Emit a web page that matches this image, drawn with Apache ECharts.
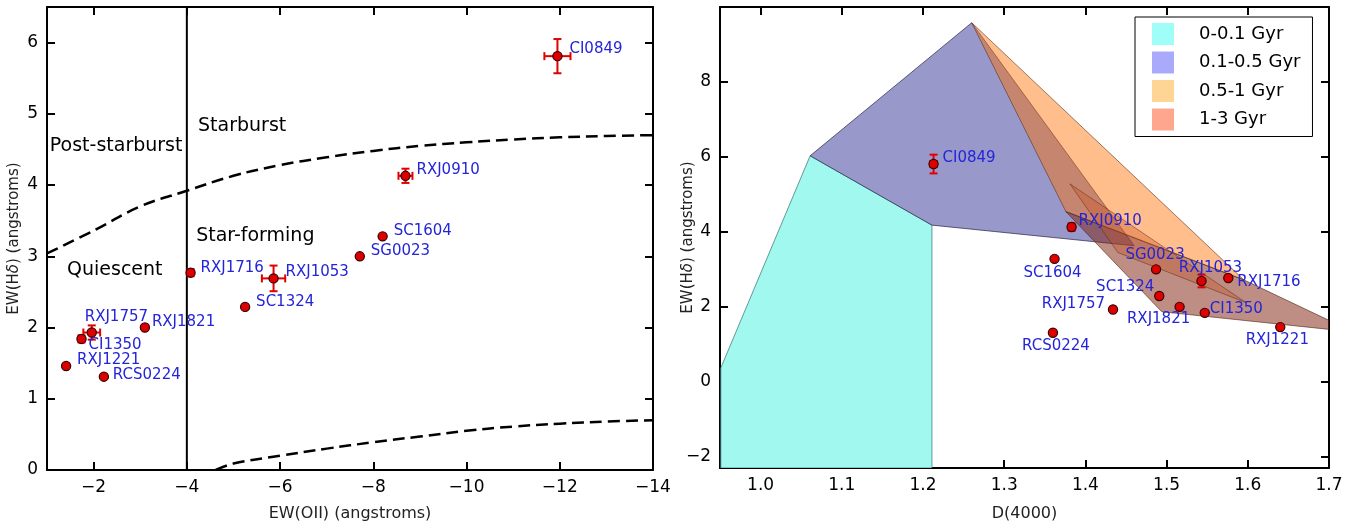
<!DOCTYPE html>
<html><head><meta charset="utf-8">
<script src="https://cdn.jsdelivr.net/npm/echarts@6/dist/echarts.min.js"></script>
<style>html,body{margin:0;padding:0;background:#fff}#c{width:1355px;height:527px}</style>
</head><body><div id="c"></div>
<script>
// ---------------- data ----------------
const clusters = ['CI0849','RXJ0910','SC1604','SG0023','RXJ1053','SC1324','RXJ1716','RXJ1821','RXJ1757','CI1350','RXJ1221','RCS0224'];
const ewOII    = [-11.95, -8.69, -8.20, -7.71, -5.86, -5.25, -4.08, -3.10, -1.96, -1.74, -1.41, -2.22];
const ewOIIErr = [  0.28,  0.15,  0,     0,     0.25,  0,     0.05,  0,     0.18,  0.05,  0,     0   ];
const ewHd     = [  5.81,  4.13,  3.28,  3.00,  2.69,  2.29,  2.77,  2.00,  1.93,  1.84,  1.46,  1.31];
const ewHdErr  = [  0.24,  0.10,  0,     0,     0.18,  0,     0.05,  0,     0.10,  0.05,  0,     0   ];
const d4000    = [ 1.213, 1.383, 1.362, 1.487, 1.543, 1.491, 1.576, 1.516, 1.434, 1.547, 1.640, 1.360];
const d4000Err = [ 0.004, 0,     0,     0,     0.003, 0,     0,     0,     0,     0,     0,     0    ];
const ewHdErrRight = [0.25, 0.10, 0, 0, 0.17, 0, 0, 0, 0, 0, 0, 0];

const leftXTicks  = [-2, -4, -6, -8, -10, -12, -14];
const leftYTicks  = [0, 1, 2, 3, 4, 5, 6];
const rightXTicks = [1.0, 1.1, 1.2, 1.3, 1.4, 1.5, 1.6, 1.7];
const rightYTicks = [-2, 0, 2, 4, 6, 8];

const regionNames = ['Post-starburst', 'Starburst', 'Star-forming', 'Quiescent'];
const regionOII   = [-1.06, -4.24, -4.20, -1.43];
const regionHd    = [4.55, 4.83, 3.28, 2.81];

const divideOII = -4;
const upperBoundary = [[-1,3.04],[-2,3.36],[-3,3.70],[-4,3.92],[-5,4.13],[-6,4.28],[-7,4.39],[-8,4.48],[-9,4.55],[-10,4.60],[-11,4.64],[-12,4.67],[-13,4.69],[-14,4.70]];
const lowerBoundary = [[-4.62,0.0],[-5,0.09],[-6,0.2],[-7,0.3],[-8,0.39],[-9,0.47],[-10,0.55],[-11,0.61],[-12,0.65],[-13,0.68],[-14,0.70]];

const ageBins = ['0-0.1 Gyr', '0.1-0.5 Gyr', '0.5-1 Gyr', '1-3 Gyr'];
const poly0_01   = [[0.951,0.37],[1.061,6.03],[1.211,4.18],[1.211,-2.3],[0.951,-2.3]];
const poly01_05  = [[1.061,6.03],[1.26,9.58],[1.46,3.63],[1.211,4.18]];
const poly05_1   = [[1.26,9.58],[1.595,2.72],[1.376,4.54]];
const poly1_3    = [[1.376,4.54],[1.494,1.87],[1.73,1.33],[1.595,2.72]];
const poly1_3core= [[1.381,5.28],[1.598,2.11],[1.44,3.45]];

// ---------------- styles ----------------
const FONT = 'DejaVu Sans';
const labelBlue = '#2424d8';
const leftLabelOffsets = {
  CI0849:[12,-7,'left'], RXJ0910:[11,-6,'left'], SC1604:[11,-5,'left'], SG0023:[11,-5,'left'],
  RXJ1053:[12,-6,'left'], SC1324:[11,-5,'left'], RXJ1716:[10,-5,'left'], RXJ1821:[7,-5,'left'],
  RXJ1757:[-7,-15,'left'], CI1350:[7,6,'left'], RXJ1221:[11,-6,'left'], RCS0224:[9,-2,'left']
};
const rightLabelOffsets = {
  CI0849:[9,-6,'left'], RXJ0910:[7,-6,'left'], SC1604:[-2,14,'center'], SG0023:[-1,-14,'center'],
  RXJ1053:[9,-13,'center'], RXJ1716:[9,4,'left'], SC1324:[-5,-9,'right'], RXJ1821:[-21,12,'center'],
  CI1350:[5,-4,'left'], RXJ1757:[-8,-5,'right'], RXJ1221:[-3,13,'center'], RCS0224:[3,13,'center']
};
const polyStyles = [
  {fill:'#a0f8ee', stroke:'rgba(60,120,120,0.75)'},
  {fill:'#9898ca', stroke:'rgba(40,40,70,0.7)'},
  {fill:'rgba(255,111,0,0.45)', stroke:'rgba(90,50,30,0.6)'},
  {fill:'rgba(125,30,10,0.5)', stroke:'rgba(80,40,30,0.6)'}
];
const legendColors = ['#9ffff8', '#aaaafa', '#ffd596', '#ffa68e'];

// ---------------- helpers ----------------
const minus = v => (v < 0 ? '\u2212' + Math.abs(v) : String(v));

function pointRenderer(offsets) {
  return function (params, api) {
    const name = clusters[params.dataIndex];
    const x = api.value(0), y = api.value(1), xe = api.value(2), ye = api.value(3);
    const c = api.coord([x, y]);
    const kids = [];
    const red = '#e00000';
    if (xe > 0) {
      const a = api.coord([x - xe, y]), b = api.coord([x + xe, y]);
      kids.push({type:'line', shape:{x1:a[0],y1:a[1],x2:b[0],y2:b[1]}, style:{stroke:red,lineWidth:2}});
      [a,b].forEach(p => kids.push({type:'line', shape:{x1:p[0],y1:p[1]-4,x2:p[0],y2:p[1]+4}, style:{stroke:red,lineWidth:2}}));
    }
    if (ye > 0) {
      const a = api.coord([x, y - ye]), b = api.coord([x, y + ye]);
      kids.push({type:'line', shape:{x1:a[0],y1:a[1],x2:b[0],y2:b[1]}, style:{stroke:red,lineWidth:2}});
      [a,b].forEach(p => kids.push({type:'line', shape:{x1:p[0]-4,y1:p[1],x2:p[0]+4,y2:p[1]}, style:{stroke:red,lineWidth:2}}));
    }
    kids.push({type:'circle', shape:{cx:c[0], cy:c[1], r:4.6}, style:{fill:'#dd0000', stroke:'#3a0000', lineWidth:1.2}});
    const o = offsets[name];
    kids.push({type:'text', style:{text:name, x:c[0]+o[0], y:c[1]+o[1], align:o[2], verticalAlign:'middle',
      fill:labelBlue, font:'15px "' + FONT + '"'}});
    return {type:'group', children:kids};
  };
}

function polyRenderer(polys, styles) {
  return function (params, api) {
    if (params.dataIndex !== 0) return null;
    return {type:'group', children: polys.map((p, k) => ({
      type:'polygon', shape:{points: p.map(v => api.coord(v))},
      style:{fill: styles[k].fill, stroke: styles[k].stroke, lineWidth: 1}
    }))};
  };
}

const axisCommon = {
  type:'value', splitLine:{show:false},
  axisLine:{show:true, onZero:false, lineStyle:{color:'#000', width:2}},
  axisTick:{show:true, inside:true, length:8, lineStyle:{color:'#000', width:2}},
  nameMoveOverlap:false,
  nameTextStyle:{fontFamily:FONT, fontSize:16, color:'#222'}
};
function mkAxis(extra, ticks, showLabels, fmt) {
  return Object.assign({}, axisCommon, extra, {
    axisTick:Object.assign({}, axisCommon.axisTick, {customValues:ticks}),
    axisLabel:{show:showLabels, customValues:ticks, formatter:fmt, color:'#000', fontFamily:FONT, fontSize:17, margin:9}
  });
}
const hdName = '{n|EW(H}{i|\u03b4}{n|) (angstroms)}';
const hdRich = {n:{fontFamily:FONT, fontSize:15, color:'#222'}, i:{fontFamily:FONT, fontSize:15, fontStyle:'italic', color:'#222'}};

const chart = echarts.init(document.getElementById('c'));
chart.setOption({
  animation:false,
  backgroundColor:'#fff',
  grid:[
    {left:47, top:7, width:606, height:468},
    {left:720, top:7, width:609, height:468}
  ],
  xAxis:[
    mkAxis({gridIndex:0, min:-14, max:-1, inverse:true, position:'bottom', name:'EW(OII) (angstroms)', nameLocation:'middle', nameGap:36}, leftXTicks, true, minus),
    mkAxis({gridIndex:0, min:-14, max:-1, inverse:true, position:'top'}, leftXTicks, false),
    mkAxis({gridIndex:1, min:0.95, max:1.7, position:'bottom', name:'D(4000)', nameLocation:'middle', nameGap:38}, rightXTicks, true, v => v.toFixed(1)),
    mkAxis({gridIndex:1, min:0.95, max:1.7, position:'top'}, rightXTicks, false)
  ],
  yAxis:[
    mkAxis({gridIndex:0, min:0, max:6.5, position:'left', name:hdName, nameLocation:'middle', nameGap:25, nameTextStyle:{rich:hdRich}}, leftYTicks, true, minus),
    mkAxis({gridIndex:0, min:0, max:6.5, position:'right'}, leftYTicks, false),
    mkAxis({gridIndex:1, min:-2.3, max:10, position:'left', name:hdName, nameLocation:'middle', nameGap:24, nameTextStyle:{rich:hdRich}}, rightYTicks, true, minus),
    mkAxis({gridIndex:1, min:-2.3, max:10, position:'right'}, rightYTicks, false)
  ],
  legend:{
    left:1135, top:17, orient:'vertical', icon:'rect', itemWidth:22, itemHeight:22, itemGap:6.5,
    padding:[6, 12, 6, 17], backgroundColor:'#fff', borderColor:'#000', borderWidth:1, borderRadius:0,
    textStyle:{fontFamily:FONT, fontSize:18, color:'#000', padding:[0,0,0,20]},
    selectedMode:false,
    data: ageBins.map((n, i) => ({name:n, itemStyle:{color:legendColors[i]}}))
  },
  series:[
    // left panel
    {type:'line', xAxisIndex:0, yAxisIndex:0, data:[[divideOII,0],[divideOII,6.5]], symbol:'none',
      lineStyle:{color:'#000', width:2}, z:3},
    {type:'line', xAxisIndex:0, yAxisIndex:0, data:upperBoundary, symbol:'none', smooth:0.4,
      lineStyle:{color:'#000', width:2.5, type:[12,6]}, z:3},
    {type:'line', xAxisIndex:0, yAxisIndex:0, data:lowerBoundary, symbol:'none', smooth:0.4,
      lineStyle:{color:'#000', width:2.5, type:[12,6]}, z:3},
    {type:'custom', xAxisIndex:0, yAxisIndex:0, z:4,
      data: regionNames.map((n,i) => [regionOII[i], regionHd[i]]),
      renderItem:(params, api) => {
        const c = api.coord([api.value(0), api.value(1)]);
        return {type:'text', style:{text:regionNames[params.dataIndex], x:c[0], y:c[1], align:'left', verticalAlign:'middle',
          fill:'#000', font:'19px "' + FONT + '"'}};
      }},
    {type:'custom', xAxisIndex:0, yAxisIndex:0, z:5,
      data: clusters.map((n,i) => [ewOII[i], ewHd[i], ewOIIErr[i], ewHdErr[i]]),
      renderItem: pointRenderer(leftLabelOffsets)},
    // right panel polygons
    {type:'custom', name:ageBins[0], xAxisIndex:2, yAxisIndex:2, clip:true, z:2, itemStyle:{color:legendColors[0]},
      data: poly0_01, renderItem: polyRenderer([poly0_01], [polyStyles[0]])},
    {type:'custom', name:ageBins[1], xAxisIndex:2, yAxisIndex:2, clip:true, z:2, itemStyle:{color:legendColors[1]},
      data: poly01_05, renderItem: polyRenderer([poly01_05], [polyStyles[1]])},
    {type:'custom', name:ageBins[2], xAxisIndex:2, yAxisIndex:2, clip:true, z:2, itemStyle:{color:legendColors[2]},
      data: poly05_1, renderItem: polyRenderer([poly05_1], [polyStyles[2]])},
    {type:'custom', name:ageBins[3], xAxisIndex:2, yAxisIndex:2, clip:true, z:2, itemStyle:{color:legendColors[3]},
      data: poly1_3, renderItem: polyRenderer([poly1_3, poly1_3core],
        [polyStyles[3], {fill:'rgba(200,80,30,0.35)', stroke:'rgba(90,40,20,0.5)'}])},
    {type:'custom', xAxisIndex:2, yAxisIndex:2, z:5,
      data: clusters.map((n,i) => [d4000[i], ewHd[i], d4000Err[i], ewHdErrRight[i]]),
      renderItem: pointRenderer(rightLabelOffsets)}
  ]
});
</script></body></html>
